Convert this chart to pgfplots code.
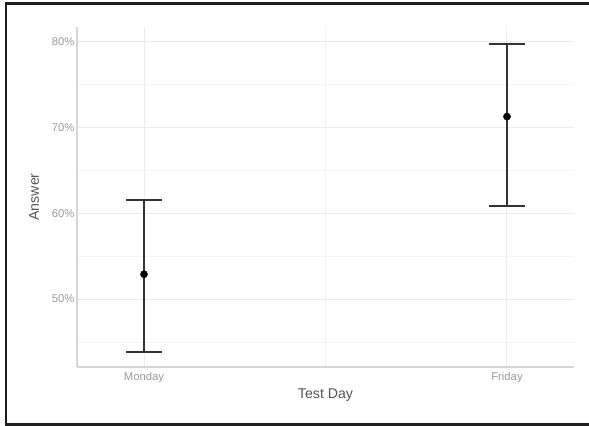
\documentclass[border=0pt]{standalone}
\usepackage{fontspec}
\setmainfont{Liberation Sans}
\usepackage{pgfplots}
\pgfplotsset{compat=1.18}
\definecolor{tickgray}{HTML}{999999}
\definecolor{titlegray}{HTML}{555555}
\definecolor{gridmaj}{HTML}{EBEBEB}
\definecolor{gridmin}{HTML}{F4F4F4}
\definecolor{axgray}{HTML}{D6D6D6}
\definecolor{barcol}{HTML}{333333}
\begin{document}
\begin{tikzpicture}
\path[use as bounding box] (0bp,0bp) rectangle (589bp,426bp);
\draw[line width=2.5bp, color=black!88] (589bp,422.5bp) -- (6bp,422.5bp) -- (6bp,1.5bp) -- (589bp,1.5bp);
\begin{axis}[
  at={(77bp,59bp)}, anchor=south west,
  scale only axis, width=497bp, height=340bp,
  xmin=0.8154, xmax=2.1846, ymin=42.08, ymax=81.75,
  axis x line=bottom, axis y line=left,
  axis line style={-, color=axgray, line width=1.3bp},
  major tick length=0pt, minor tick length=0pt,
  xtick={1,2}, xticklabels={Monday,Friday}, minor xtick={1.5},
  ytick={50,60,70,80}, minor ytick={45,55,65,75},
  yticklabel={\pgfmathprintnumber{\tick}\%},
  /pgf/number format/assume math mode=true,
  grid=both,
  major grid style={color=gridmaj, line width=1bp},
  minor grid style={color=gridmin, line width=0.8bp},
  tick label style={font=\fontsize{11.3}{13}\selectfont, color=tickgray},
  xticklabel style={yshift=-2bp},
  yticklabel style={xshift=1bp},
  xlabel={Test Day}, ylabel={Answer},
  every axis x label/.style={at={(axis description cs:0.5,-0.0824)}, anchor=center, font=\fontsize{14.2}{17}\selectfont, color=titlegray},
  every axis y label/.style={at={(axis description cs:-0.0865,0.5)}, rotate=90, anchor=center, font=\fontsize{14.2}{17}\selectfont, color=titlegray},
  clip=false,
]
\addplot[draw=none, mark=none, forget plot,
  error bars/.cd, y dir=both, y explicit,
  error bar style={line width=1.8bp, color=barcol},
  error mark options={rotate=90, mark size=18bp, line width=1.8bp, color=barcol}]
  table[x=x, y=y, y error plus=ep, y error minus=em]{
x y ep em
1 52.9 8.7 9.1
2 71.3 8.5 10.4
};
\addplot[only marks, mark=*, mark size=3.6bp, color=black]
  table[x=x, y=y]{
x y
1 52.9
2 71.3
};
\end{axis}
\end{tikzpicture}
\end{document}
